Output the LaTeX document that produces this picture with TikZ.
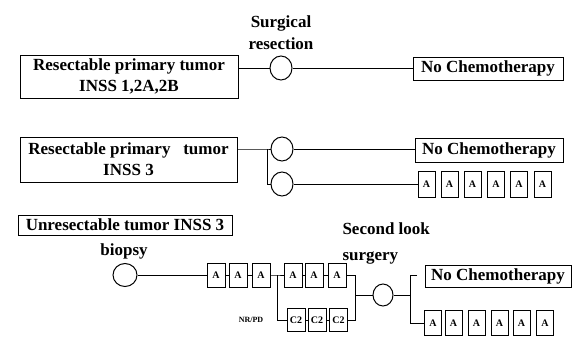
\documentclass[tikz,border=0pt]{standalone}
\usepackage{fontspec}
\setmainfont{Liberation Serif}
\usetikzlibrary{shapes.geometric}
\begin{document}
\begin{tikzpicture}[x=1pt,y=-1pt,line width=1pt,
  bigbox/.style={draw,rectangle,inner sep=0pt,align=center,font=\fontsize{17}{21}\selectfont\bfseries},
  ncbox/.style={draw,rectangle,inner sep=0pt,font=\fontsize{17}{20}\selectfont\bfseries},
  circ/.style={draw,ellipse,inner sep=0pt,minimum width=22pt,minimum height=24pt},
  abox/.style={draw,rectangle,inner sep=0pt,minimum width=17pt,minimum height=25pt,font=\fontsize{10}{12}\selectfont\bfseries},
  lbl/.style={inner sep=0pt,font=\fontsize{17}{22}\selectfont\bfseries,align=center}]
\useasboundingbox (0,0) rectangle (572,338);
% Row 1
\node[bigbox,minimum width=218pt,minimum height=43pt] (b1) at (129,76.5) {Resectable primary tumor\\INSS 1,2A,2B};
\node[circ] (c1) at (281,68) {};
\node[ncbox,minimum width=150pt,minimum height=23pt] (n1) at (488,68.5) {No Chemotherapy};
\node[lbl] (s1) at (281,33) {Surgical\\resection};
\draw (b1.east |- c1) -- (c1.west);
\draw (c1.east) -- (n1.west |- c1);
% Row 2
\node[bigbox,minimum width=217pt,minimum height=45pt] (b2) at (128.5,159.5) {Resectable primary\ \ \ tumor\\INSS 3};
\coordinate (j2a) at (267,149);
\coordinate (j2b) at (267,184);
\node[circ] (c2a) at (282,149) {};
\node[circ] (c2b) at (282,184) {};
\node[ncbox,minimum width=148pt,minimum height=24pt] (n2) at (489,150) {No Chemotherapy};
\foreach \i/\x in {1/426.5,2/449.5,3/472.5,4/496,5/519,6/542.5}
  \node[abox,minimum height=26pt] (ra\i) at (\x,184) {A};
\draw (b2.east |- j2a) -- (j2a) -- (c2a.west);
\draw (j2a) -- (j2b) -- (c2b.west);
\draw (c2a.east) -- (n2.west |- c2a);
\draw (c2b.east) -- (ra1.west |- c2b);
% Row 3
\node[bigbox,minimum width=214pt,minimum height=20pt] (b3) at (125,225) {Unresectable tumor INSS 3};
\node[lbl] (bi) at (124,251) {biopsy};
\node[circ,minimum width=24pt,minimum height=23pt] (c3a) at (125,275) {};
\foreach \i/\x in {1/216,2/238,3/261}
  \node[abox,minimum width=18pt,minimum height=24pt] (fa\i) at (\x,275) {A};
\foreach \i/\x in {1/293,2/314,3/337}
  \node[abox,minimum width=18pt,minimum height=24pt] (ua\i) at (\x,275) {A};
\foreach \i/\x in {1/296,2/317,3/338.5}
  \node[abox,minimum width=18pt,minimum height=23pt] (cc\i) at (\x,320) {C2};
\coordinate (j1) at (277,275);
\coordinate (j2) at (277,320);
\coordinate (j3) at (355,275);
\coordinate (j4) at (355,320);
\coordinate (j5) at (355,295);
\node[circ,minimum width=20pt,minimum height=22pt] (c3b) at (383,295) {};
\coordinate (j6) at (410,275);
\coordinate (j6t) at (417,275);
\coordinate (j7) at (410,323);
\coordinate (j8) at (410,295);
\node[ncbox,minimum width=146pt,minimum height=22pt] (n3) at (498,276) {No Chemotherapy};
\foreach \i/\x in {1/433,2/453.5,3/476.5,4/499.5,5/521.5,6/545}
  \node[abox,minimum width=17pt,minimum height=25pt] (la\i) at (\x,323) {A};
\node[inner sep=0pt,font=\fontsize{8}{9}\selectfont\bfseries] (nr) at (251,320) {NR/PD};
\node[lbl,align=left,anchor=north west,font=\fontsize{17}{26}\selectfont\bfseries] (sl) at (342,222) {Second look\\surgery};
\draw (c3a.east) -- (fa1.west);
\draw (fa1) -- (fa2) (fa2) -- (fa3);
\draw (fa3.east) -- (j1) -- (ua1.west);
\draw (j1) -- (j2) -- (cc1.west);
\draw (ua1) -- (ua2) (ua2) -- (ua3);
\draw (cc1) -- (cc2) (cc2) -- (cc3);
\draw (ua3.east) -- (j3) -- (j4) -- (cc3.east);
\draw (j5) -- (c3b.west);
\draw (c3b.east) -- (j8);
\draw (j6t) -- (j6) -- (j7) -- (la1.west);
\end{tikzpicture}
\end{document}
